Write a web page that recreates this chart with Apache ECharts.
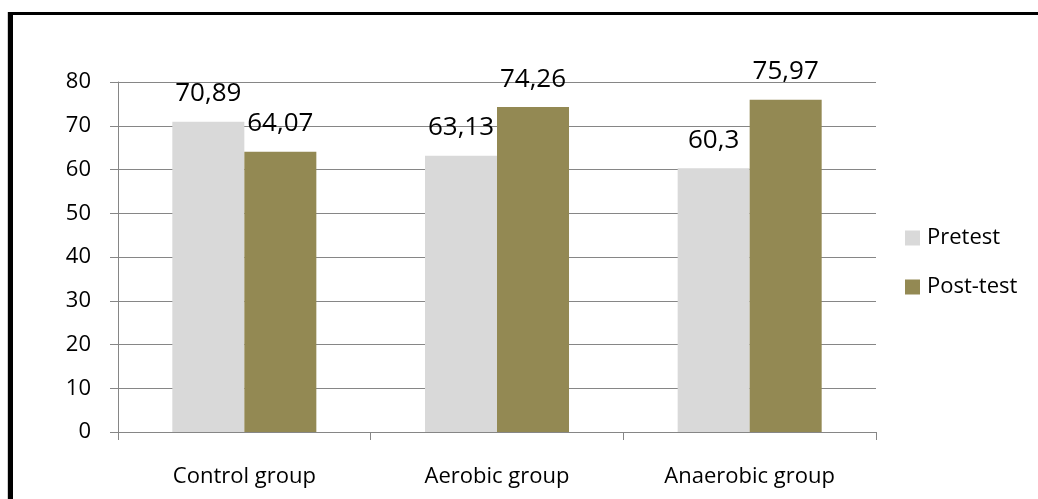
<!DOCTYPE html>
<html>
<head>
<meta charset="utf-8">
<script src="https://cdn.jsdelivr.net/npm/echarts@6/dist/echarts.min.js"></script>
<style>
  html, body { margin: 0; padding: 0; background: #fff; }
  #frame {
    position: absolute; left: 8px; top: 12px; width: 1100px; height: 600px;
    border-left: 5px solid #000; border-top: 3px solid #000;
    box-shadow: -1px 0 0 #d0d0d0;
  }
  #chart { position: absolute; left: 0; top: 0; width: 1038px; height: 499px; }
</style>
</head>
<body>
<div id="frame"></div>
<div id="chart"></div>
<script>
// Groups and mean scores before and after the training programme
const categories = ['Control group', 'Aerobic group', 'Anaerobic group'];
const pretest = [70.89, 63.13, 60.3];
const posttest = [64.07, 74.26, 75.97];
const yTicks = [0, 10, 20, 30, 40, 50, 60, 70, 80];

const FONT = '"Open Sans", sans-serif';
const AXIS_GRAY = '#868686';

const chart = echarts.init(document.getElementById('chart'), null, { renderer: 'canvas' });

const valueLabel = {
  show: true,
  position: 'top',
  distance: 15,
  color: '#000',
  fontFamily: FONT,
  fontSize: 26,
  lineHeight: 26,
  formatter: p => String(p.value).replace('.', ',')
};

chart.setOption({
  animation: false,
  grid: { left: 118, right: 162, top: 82, bottom: 67, containLabel: false },
  legend: {
    orient: 'vertical',
    left: 900,
    top: 222,
    itemWidth: 15,
    itemHeight: 15,
    itemGap: 27,
    icon: 'rect',
    textStyle: { fontFamily: FONT, fontSize: 22, lineHeight: 22, color: '#000', padding: [0, 0, 0, 2] },
    data: ['Pretest', 'Post-test']
  },
  xAxis: {
    type: 'category',
    data: categories,
    axisLine: { lineStyle: { color: AXIS_GRAY, width: 1 } },
    axisTick: { show: true, length: 8, alignWithLabel: false, lineStyle: { color: AXIS_GRAY } },
    axisLabel: { margin: 34, color: '#000', fontFamily: FONT, fontSize: 22, lineHeight: 22 }
  },
  yAxis: {
    type: 'value',
    min: yTicks[0],
    max: yTicks[yTicks.length - 1],
    interval: yTicks[1] - yTicks[0],
    axisLine: { show: true, lineStyle: { color: AXIS_GRAY, width: 1 } },
    axisTick: { show: true, length: 8, lineStyle: { color: AXIS_GRAY } },
    splitLine: { show: true, lineStyle: { color: AXIS_GRAY, width: 1 } },
    axisLabel: { margin: 27, color: '#000', fontFamily: FONT, fontSize: 22 }
  },
  series: [
    {
      name: 'Pretest',
      type: 'bar',
      data: pretest,
      barGap: '0%',
      barCategoryGap: '43%',
      itemStyle: { color: '#D9D9D9' },
      label: valueLabel
    },
    {
      name: 'Post-test',
      type: 'bar',
      data: posttest,
      barGap: '0%',
      barCategoryGap: '43%',
      itemStyle: { color: '#938953' },
      label: valueLabel
    }
  ]
});
</script>
</body>
</html>
